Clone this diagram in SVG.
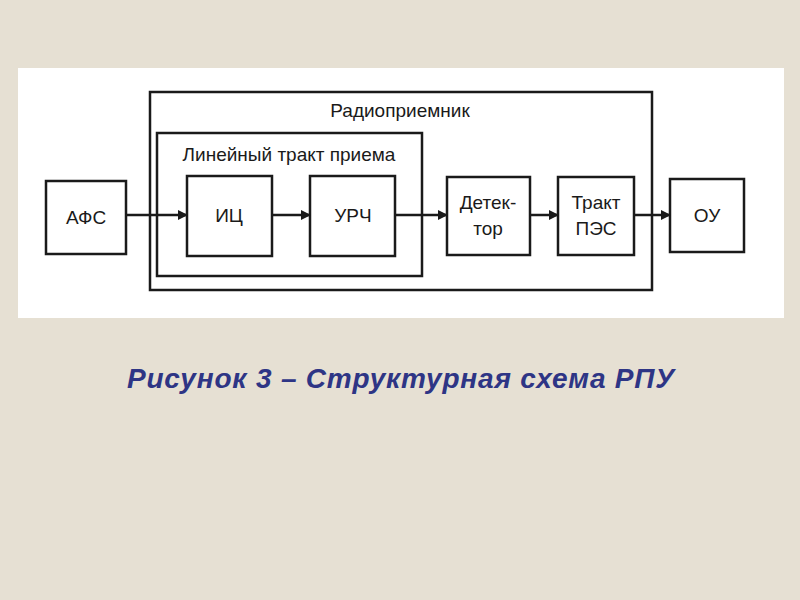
<svg xmlns="http://www.w3.org/2000/svg" width="800" height="600" viewBox="0 0 800 600">
<style>
.b{fill:none;stroke:#1a1a1a;stroke-width:2.5}
.t{font-family:"Liberation Sans",Arial,sans-serif;font-size:19px;fill:#1a1a1a;text-anchor:middle}
.c{stroke:#1a1a1a;stroke-width:2.5;fill:none;marker-end:url(#a)}
</style>
<defs><marker id="a" markerWidth="10" markerHeight="10" refX="9" refY="5" orient="auto" markerUnits="userSpaceOnUse"><path d="M0,0 L10,5 L0,10 z" fill="#1a1a1a"/></marker></defs>
<rect width="800" height="600" fill="#e6e0d3"/>
<rect x="18" y="68" width="766" height="250" fill="#fff"/>
<g id="radio"><rect class="b" x="150" y="92" width="502" height="198"/><text class="t" x="400" y="117">Радиоприемник</text></g>
<g id="linear"><rect class="b" x="157" y="133" width="265" height="143"/><text class="t" x="289" y="161">Линейный тракт приема</text></g>
<g id="afs"><rect class="b" x="46" y="181" width="80" height="73"/><text class="t" x="86" y="224">АФС</text></g>
<g id="ic"><rect class="b" x="187" y="176" width="85" height="80"/><text class="t" x="229" y="222">ИЦ</text></g>
<g id="urch"><rect class="b" x="310" y="176" width="85" height="80"/><text class="t" x="353" y="222">УРЧ</text></g>
<g id="det"><rect class="b" x="447" y="177" width="83" height="78"/><text class="t" x="488" y="209">Детек-</text><text class="t" x="488" y="235">тор</text></g>
<g id="pes"><rect class="b" x="558" y="177" width="76" height="78"/><text class="t" x="596" y="209">Тракт</text><text class="t" x="596" y="235">ПЭС</text></g>
<g id="ou"><rect class="b" x="670" y="179" width="74" height="73"/><text class="t" x="707" y="222">ОУ</text></g>
<g id="connectors">
<line class="c" x1="126" y1="215" x2="187" y2="215"/>
<line class="c" x1="272" y1="215" x2="310" y2="215"/>
<line class="c" x1="395" y1="215" x2="447" y2="215"/>
<line class="c" x1="530" y1="215" x2="558" y2="215"/>
<line class="c" x1="634" y1="215" x2="670" y2="215"/>
</g>
<text x="401" y="388" font-family="'Liberation Sans',Arial,sans-serif" font-size="28" font-weight="bold" font-style="italic" letter-spacing="0.8" fill="#2e3585" text-anchor="middle">Рисунок 3 – Структурная схема РПУ</text>
</svg>
